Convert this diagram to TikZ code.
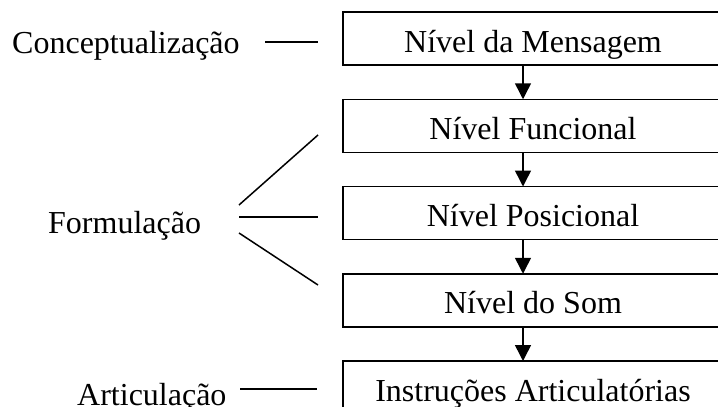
\documentclass[tikz,border=0pt]{standalone}
\usepackage{fontspec}
\setmainfont{Liberation Serif}
\usepackage{tikz}
\usetikzlibrary{positioning,arrows.meta}

\begin{document}
\begin{tikzpicture}[x=1pt,y=-1pt,font=\fontsize{32pt}{38pt}\selectfont,
   nivel/.style={draw,line width=1.5pt,minimum width=380pt,minimum height=53pt,
      text height=27pt,text depth=0pt,inner sep=0pt,outer sep=0pt},
   etapa/.style={inner sep=0pt,anchor=base west},
   fluxo/.style={-{Triangle[length=16pt,width=16pt]},line width=1.5pt},
   traco/.style={line width=1.5pt},
   node distance=34.25pt]
\useasboundingbox (0,0) rectangle (718,407);
% niveis
\node[nivel] (msg) at (533,38.5) {Nível da Mensagem};
\node[nivel,below=of msg] (func) {Nível Funcional};
\node[nivel,below=of func] (pos) {Nível Posicional};
\node[nivel,below=of pos] (som) {Nível do Som};
\node[nivel,below=of som] (instr) {Instruções Articulatórias};
\foreach \a/\b in {msg/func,func/pos,pos/som,som/instr}
   \draw[fluxo] ([xshift=-10pt]\a.south) -- ([xshift=-10pt]\b.north);
% etapas
\node[etapa] (conc) at (12,53) {Conceptualização};
\node[etapa] (form) at (48,233) {Formulação};
\node[etapa] (artic) at (77,405) {Articulação};
\coordinate (c0) at (265,42);  \coordinate (c1) at (318,42);
\coordinate (f0) at (239,205); \coordinate (f1) at (318,135);
\coordinate (f2) at (239,217); \coordinate (f3) at (318,217);
\coordinate (f4) at (239,233); \coordinate (f5) at (318,285);
\coordinate (a0) at (240,389); \coordinate (a1) at (317,389);
\draw[traco] (c0) -- (c1);
\draw[traco] (f0) -- (f1);
\draw[traco] (f2) -- (f3);
\draw[traco] (f4) -- (f5);
\draw[traco] (a0) -- (a1);
\end{tikzpicture}
\end{document}
